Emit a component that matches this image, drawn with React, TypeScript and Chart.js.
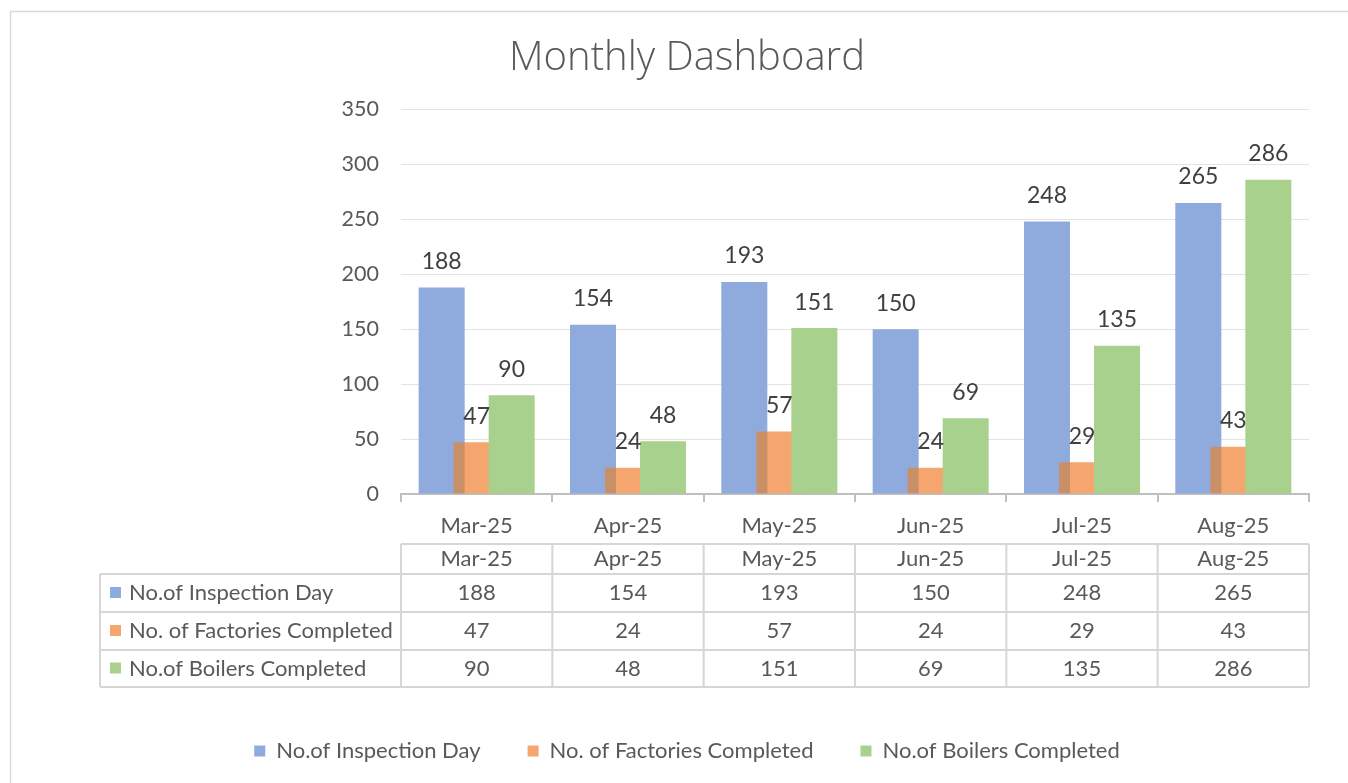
import { useEffect, useRef } from 'react';
import { Chart, registerables } from 'chart.js';

Chart.register(...registerables);

const categories = ['Mar-25', 'Apr-25', 'May-25', 'Jun-25', 'Jul-25', 'Aug-25'];
const seriesNames = ['No.of Inspection Day', 'No. of Factories Completed', 'No.of Boilers Completed'];
const inspectionDays = [188, 154, 193, 150, 248, 265];
const factoriesCompleted = [47, 24, 57, 24, 29, 43];
const boilersCompleted = [90, 48, 151, 69, 135, 286];
const yMin = 0;
const yMax = 350;
const yStep = 50;

const seriesValues = [inspectionDays, factoriesCompleted, boilersCompleted];
const seriesColors = ['#8FAADC', '#F4A66E', '#A9D18E'];

const FONT = 'Lato, "Open Sans", sans-serif';
const TITLE_FONT = '"Open Sans", Lato, sans-serif';
const TEXT = '#595959';
const LABEL = '#404040';
const TABLE_LINE = '#D6D6D6';

const orderPlugin = {
  id: 'orderPlugin',
  beforeDatasetsDraw(chart: any) {
    const metas = chart.getSortedVisibleDatasetMetas();
    const ctx = chart.ctx;
    metas.forEach((meta: any, mi: number) => {
      meta.controller.draw();
      if (mi === 1) {
        const blue = metas[0];
        meta.data.forEach((o: any, i: number) => {
          const b = blue.data[i];
          if (!b) return;
          const top = Math.min(o.y, o.base);
          const h = Math.abs(o.base - o.y);
          ctx.save();
          ctx.beginPath();
          ctx.rect(o.x - o.width / 2, top, o.width, h);
          ctx.clip();
          ctx.globalCompositeOperation = 'multiply';
          ctx.globalAlpha = 0.4;
          b.draw(ctx);
          ctx.restore();
        });
      }
    });
    return false;
  },
};

const decorPlugin = {
  id: 'decorPlugin',
  afterDraw(chart: any) {
    const ctx = chart.ctx;
    const xs = chart.scales.x;
    // outer chart border
    ctx.save();
    ctx.strokeStyle = '#D9D9D9';
    ctx.lineWidth = 1.5;
    ctx.strokeRect(10.5, 11.5, 1360, 800);
    ctx.restore();

    // data labels
    ctx.save();
    ctx.font = `23px ${FONT}`;
    ctx.fillStyle = LABEL;
    ctx.textAlign = 'center';
    ctx.textBaseline = 'middle';
    chart.getSortedVisibleDatasetMetas().forEach((meta: any) => {
      const ds = chart.data.datasets[meta.index];
      meta.data.forEach((el: any, i: number) => {
        ctx.fillText(String(ds.data[i]), el.x, el.y - 26);
      });
    });
    ctx.restore();

    // data table
    const n = categories.length;
    const left = xs.left;
    const right = xs.right;
    const step = (right - left) / n;
    const tableLeft = 100;
    const headTop = 544;
    const rowTops = [574, 612, 650];
    const bottom = 687;
    ctx.save();
    ctx.strokeStyle = TABLE_LINE;
    ctx.lineWidth = 2;
    ctx.beginPath();
    ctx.moveTo(left, headTop);
    ctx.lineTo(right, headTop);
    [...rowTops, bottom].forEach((y) => {
      ctx.moveTo(tableLeft, y);
      ctx.lineTo(right, y);
    });
    ctx.moveTo(tableLeft, rowTops[0]);
    ctx.lineTo(tableLeft, bottom);
    for (let i = 0; i <= n; i++) {
      const x = left + step * i;
      ctx.moveTo(x, headTop);
      ctx.lineTo(x, bottom);
    }
    ctx.stroke();

    ctx.font = `22px ${FONT}`;
    ctx.fillStyle = TEXT;
    ctx.textBaseline = 'middle';
    ctx.textAlign = 'center';
    categories.forEach((c, i) => {
      ctx.fillText(c, xs.getPixelForValue(i), (headTop + rowTops[0]) / 2);
    });
    const rowBounds = [...rowTops, bottom];
    seriesNames.forEach((name, r) => {
      const yc = (rowBounds[r] + rowBounds[r + 1]) / 2;
      ctx.fillStyle = seriesColors[r];
      ctx.fillRect(110, yc - 6, 11, 11);
      ctx.fillStyle = TEXT;
      ctx.textAlign = 'left';
      ctx.fillText(name, 129, yc);
      ctx.textAlign = 'center';
      seriesValues[r].forEach((v, i) => {
        ctx.fillText(String(v), xs.getPixelForValue(i), yc);
      });
    });
    ctx.restore();
  },
};

export default function App() {
  const ref = useRef<HTMLCanvasElement | null>(null);
  useEffect(() => {
    if (!ref.current) return;
    const chart = new Chart(ref.current, {
      type: 'bar',
      data: {
        labels: categories,
        datasets: seriesNames.map((name, i) => ({
          label: name,
          data: seriesValues[i],
          backgroundColor: seriesColors[i],
          borderWidth: 0,
        })),
      },
      options: {
        responsive: false,
        animation: false,
        devicePixelRatio: 1,
        layout: { padding: { left: 26, right: 0, top: 0, bottom: 11 } },
        datasets: { bar: { categoryPercentage: 0.694, barPercentage: 1.314 } } as any,
        plugins: {
          title: {
            display: true,
            text: 'Monthly Dashboard',
            color: TEXT,
            font: { family: TITLE_FONT, size: 40, weight: '300' as any },
            padding: { top: 35, bottom: 26.5 },
          },
          legend: {
            position: 'bottom',
            labels: {
              boxWidth: 11,
              boxHeight: 11,
              padding: 47,
              color: TEXT,
              font: { family: FONT, size: 22 },
            },
          },
          tooltip: { enabled: false },
        },
        scales: {
          x: {
            grid: {
              offset: true,
              drawOnChartArea: false,
              drawTicks: true,
              tickLength: 8,
              color: '#BFBFBF',
              lineWidth: 2,
            },
            border: { display: true, color: '#BFBFBF', width: 2 },
            ticks: {
              color: TEXT,
              font: { family: FONT, size: 22 },
              padding: 11,
              maxRotation: 0,
              autoSkip: false,
            },
            afterFit: (s: any) => {
              s.height = 199;
            },
          },
          y: {
            min: yMin,
            max: yMax,
            ticks: { stepSize: yStep, color: TEXT, font: { family: FONT, size: 21.5 }, padding: 22 },
            grid: { color: '#E3E3E3', drawTicks: false, lineWidth: 1 },
            border: { display: false },
            afterFit: (s: any) => {
              s.width = 401 - 26;
            },
          },
          y2: {
            position: 'right',
            display: true,
            grid: { display: false, drawTicks: false },
            ticks: { display: false },
            border: { display: false },
            afterFit: (s: any) => {
              s.width = 39;
            },
          },
        },
      },
      plugins: [orderPlugin, decorPlugin],
    });
    return () => chart.destroy();
  }, []);
  return (
    <div style={{ position: 'absolute', left: 0, top: 0, width: 1348, height: 783, background: '#fff' }}>
      <canvas ref={ref} width={1348} height={783} style={{ display: 'block' }} />
    </div>
  );
}
